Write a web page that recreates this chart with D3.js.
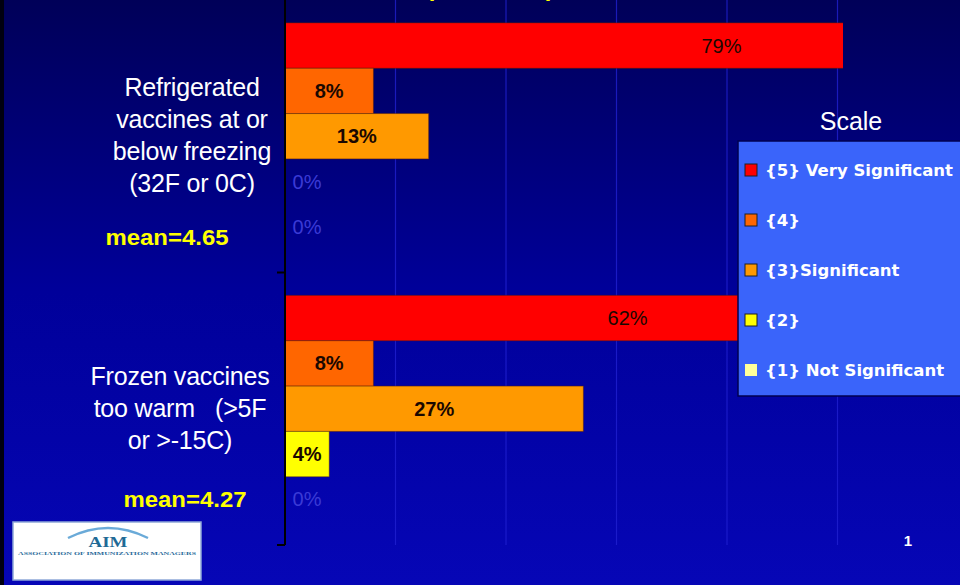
<!DOCTYPE html>
<html>
<head>
<meta charset="utf-8">
<script src="https://d3js.org/d3.v7.min.js"></script>
<style>
    body { margin: 0; background: #000060; overflow: hidden; }
    text { font-family: 'Liberation Sans', Arial, sans-serif; }
</style>
</head>
<body>
<div id="chart"></div>
<script>
// ---- data ----
var categories = ["Refrigerated", "Frozen"];
var categoryLines = [
    ["Refrigerated", "vaccines at or", "below freezing", "(32F or 0C)"],
    ["Frozen vaccines", "too warm   (>5F", "or >-15C)"]
];
var meanLabels = ["mean=4.65", "mean=4.27"];
var levels = ["{5} Very Significant", "{4}", "{3}Significant", "{2}", "{1} Not Significant"];
var levelColors = ["#ff0000", "#ff6600", "#ff9900", "#ffff00", "#ffff99"];
var refrigeratedPct = [79, 8, 13, 0, 0];
var frozenPct = [62, 8, 27, 4, 0];
var gridTicks = [10, 20, 30, 40, 50];

var width = 960, height = 585;

var svg = d3.select("#chart").append("svg")
    .attr("width", width)
    .attr("height", height);

var defs = svg.append("defs");
var grad = defs.append("linearGradient")
    .attr("id", "bg").attr("x1", 0).attr("y1", 0).attr("x2", 0).attr("y2", 1);
grad.append("stop").attr("offset", "0%").attr("stop-color", "#000058");
grad.append("stop").attr("offset", "50%").attr("stop-color", "#00009a");
grad.append("stop").attr("offset", "100%").attr("stop-color", "#0606b6");

svg.append("rect").attr("width", width).attr("height", height).attr("fill", "url(#bg)");
svg.append("rect").attr("width", 4).attr("height", height).attr("fill", "#000010");

// scales
var x = d3.scaleLinear().domain([0, 100]).range([285, 1390]);
var y = d3.scaleBand().domain(categories).range([0, 545]);
// bars fill 227 of the 273px band
var barsH = y.bandwidth() * 0.832;
var inner = d3.scaleBand().domain(d3.range(levels.length))
    .range([(y.bandwidth() - barsH) / 2, (y.bandwidth() + barsH) / 2]);

var plotRight = 843;
defs.append("clipPath").attr("id", "plotclip")
    .append("rect").attr("x", 285).attr("y", 0).attr("width", plotRight - 285).attr("height", 545);

// gridlines
svg.append("g").selectAll("line")
    .data(gridTicks)
    .enter().append("line")
    .attr("x1", function(d) { return x(d); })
    .attr("x2", function(d) { return x(d); })
    .attr("y1", 0).attr("y2", 545)
    .attr("stroke", "#2020d0")
    .attr("stroke-opacity", 0.8)
    .attr("stroke-width", 1.2);

// cut-off yellow heading above the plot
svg.append("text")
    .attr("x", 490).attr("y", -4)
    .attr("text-anchor", "middle")
    .attr("fill", "#ffff00")
    .style("font-size", "24px").style("font-weight", "bold")
    .attr("textLength", 128).attr("lengthAdjust", "spacing")
    .text("(n = 134)");

var series = [refrigeratedPct, frozenPct];

var plot = svg.append("g").attr("clip-path", "url(#plotclip)");

categories.forEach(function(cat, ci) {
    var g = plot.append("g").attr("transform", "translate(0," + y(cat) + ")");
    g.selectAll("rect")
        .data(series[ci])
        .enter().append("rect")
        .attr("x", x(0))
        .attr("y", function(d, i) { return inner(i); })
        .attr("width", function(d) { return x(d) - x(0); })
        .attr("height", inner.bandwidth())
        .attr("fill", function(d, i) { return levelColors[i]; })
        .attr("stroke", "#5a2000")
        .attr("stroke-opacity", 0.45)
        .attr("stroke-width", 1);
});

// bar value labels
categories.forEach(function(cat, ci) {
    var g = svg.append("g").attr("transform", "translate(0," + y(cat) + ")");
    g.selectAll("text")
        .data(series[ci])
        .enter().append("text")
        .attr("x", function(d) { return d === 0 ? x(0) + 22 : (x(0) + x(d)) / 2; })
        .attr("y", function(d, i) { return inner(i) + inner.bandwidth() / 2 + 7; })
        .attr("text-anchor", "middle")
        .attr("fill", function(d) { return d === 0 ? "#3a3ad6" : "#1a0800"; })
        .style("font-size", "20px")
        .style("font-weight", function(d, i) { return (d === 0 || i === 0) ? "normal" : "bold"; })
        .text(function(d) { return d + "%"; });
});

// axis line with boundary ticks
svg.append("line")
    .attr("x1", 285).attr("x2", 285).attr("y1", 0).attr("y2", 545)
    .attr("stroke", "#000").attr("stroke-width", 2);
svg.append("g").selectAll("line")
    .data(categories)
    .enter().append("line")
    .attr("x1", 277).attr("x2", 285)
    .attr("y1", function(d) { return y(d) + y.bandwidth(); })
    .attr("y2", function(d) { return y(d) + y.bandwidth(); })
    .attr("stroke", "#000").attr("stroke-width", 2);

// category labels
var labelX = [192, 180];
categories.forEach(function(cat, ci) {
    var lines = categoryLines[ci];
    var mid = y(cat) + y.bandwidth() / 2;
    var t = svg.append("text")
        .attr("text-anchor", "middle")
        .attr("fill", "#ffffff")
        .style("font-size", "25px")
        .style("letter-spacing", "-0.2px");
    lines.forEach(function(line, li) {
        t.append("tspan")
            .attr("x", labelX[ci])
            .attr("y", mid - (lines.length - 1) * 32 / 2 + 8 + li * 32)
            .style("white-space", "pre")
            .text(line);
    });
});

// mean labels
var meanPos = [[167, 245], [185, 507]];
meanLabels.forEach(function(m, i) {
    svg.append("text")
        .attr("x", meanPos[i][0]).attr("y", meanPos[i][1])
        .attr("text-anchor", "middle")
        .attr("fill", "#ffff00")
        .style("font-size", "22px").style("font-weight", "bold")
        .attr("textLength", 123).attr("lengthAdjust", "spacingAndGlyphs")
        .text(m);
});

// legend
svg.append("text")
    .attr("x", 851).attr("y", 130)
    .attr("text-anchor", "middle")
    .attr("fill", "#ffffff")
    .style("font-size", "25px")
    .text("Scale");

var legend = svg.append("g");
legend.append("rect")
    .attr("x", 738).attr("y", 141)
    .attr("width", 240).attr("height", 255)
    .attr("fill", "#3a64fa")
    .attr("stroke", "#000050").attr("stroke-width", 1.5);

var item = legend.selectAll("g.item")
    .data(levels)
    .enter().append("g")
    .attr("class", "item")
    .attr("transform", function(d, i) { return "translate(745," + (170 + i * 50) + ")"; });
item.append("rect")
    .attr("x", 0).attr("y", -6)
    .attr("width", 12).attr("height", 12)
    .attr("fill", function(d, i) { return levelColors[i]; })
    .attr("stroke", function(d, i) { return i === 4 ? "none" : "#202020"; })
    .attr("stroke-width", 1);
item.append("text")
    .attr("x", 20).attr("y", 6)
    .attr("fill", "#ffffff")
    .style("font-family", "'DejaVu Sans', Verdana, sans-serif")
    .style("font-size", "16.5px").style("font-weight", "bold")
    .text(function(d) { return d; });

// page number
svg.append("text")
    .attr("x", 908).attr("y", 546)
    .attr("text-anchor", "middle")
    .attr("fill", "#ffffff")
    .style("font-size", "15px").style("font-weight", "bold")
    .text("1");

// AIM logo
var logo = svg.append("g");
logo.append("rect")
    .attr("x", 13).attr("y", 522).attr("width", 188).attr("height", 58)
    .attr("fill", "#ffffff").attr("stroke", "#8fa8d8").attr("stroke-width", 1.5);
logo.append("path")
    .attr("d", "M 68 538 Q 108 518 148 538")
    .attr("fill", "none").attr("stroke", "#6aaad8").attr("stroke-width", 2.5);
logo.append("text")
    .attr("x", 108).attr("y", 547)
    .attr("text-anchor", "middle")
    .attr("fill", "#1f6a96")
    .style("font-family", "'Liberation Serif', serif")
    .style("font-size", "15px").style("font-weight", "bold")
    .attr("textLength", 39).attr("lengthAdjust", "spacingAndGlyphs")
    .text("AIM");
logo.append("text")
    .attr("x", 107).attr("y", 555)
    .attr("text-anchor", "middle")
    .attr("fill", "#2a6a9a")
    .style("font-family", "'Liberation Serif', serif")
    .style("font-size", "5px").style("font-weight", "bold")
    .attr("textLength", 178).attr("lengthAdjust", "spacingAndGlyphs")
    .text("ASSOCIATION OF IMMUNIZATION MANAGERS");
</script>
</body>
</html>
